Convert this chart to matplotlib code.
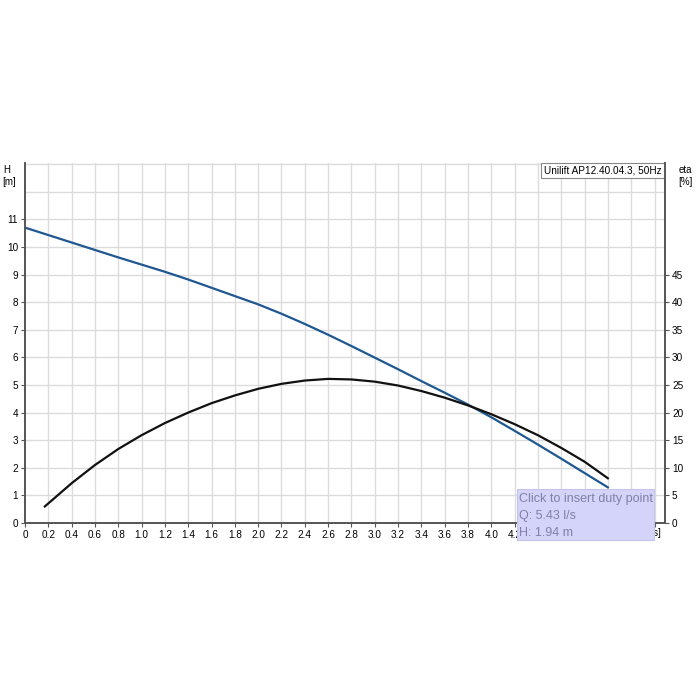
import matplotlib
matplotlib.use("Agg")
import matplotlib.pyplot as plt
import numpy as np
from matplotlib.patches import Rectangle

plt.rcParams['font.family'] = ['Liberation Sans', 'DejaVu Sans']

# Head curve H [m] vs Q [l/s]
q_head = [0, 0.2, 0.4, 0.6, 0.8, 1.0, 1.2, 1.4, 1.6, 1.8, 2.0, 2.2, 2.4, 2.6, 2.8,
          3.0, 3.2, 3.4, 3.6, 3.8, 4.0, 4.2, 4.4, 4.6, 4.8, 5.0]
h_head = [10.70, 10.43, 10.16, 9.89, 9.62, 9.36, 9.10, 8.82, 8.52, 8.22, 7.92, 7.58,
          7.21, 6.82, 6.41, 5.99, 5.57, 5.14, 4.72, 4.29, 3.83, 3.34, 2.84, 2.33, 1.81, 1.29]

# Efficiency curve eta [%] vs Q [l/s]
q_eta = [0.17, 0.4, 0.6, 0.8, 1.0, 1.2, 1.4, 1.6, 1.8, 2.0, 2.2, 2.4, 2.6, 2.8,
         3.0, 3.2, 3.4, 3.6, 3.8, 4.0, 4.2, 4.4, 4.6, 4.8, 5.0]
eta = [3.0, 7.2, 10.5, 13.4, 15.9, 18.1, 20.0, 21.7, 23.1, 24.3, 25.2, 25.8, 26.1, 26.0,
       25.6, 24.9, 23.9, 22.7, 21.3, 19.7, 17.9, 15.9, 13.6, 11.1, 8.1]

x_ticks = [round(0.2 * i, 1) for i in range(28)]
x_labels = ['0'] + ['%.1f' % v if v <= 4.2 else '' for v in x_ticks[1:]]
h_ticks = list(range(0, 12))
eta_ticks = list(range(0, 50, 5))

legend_text = "Unilift AP12.40.04.3, 50Hz"
tooltip_lines = ["Click to insert duty point", "Q: 5.43 l/s", "H: 1.94 m"]

fig = plt.figure(figsize=(7, 7), dpi=100)
L, R, B, T = 25/700, 665/700, 1 - 523/700, 1 - 163/700
ax = fig.add_axes([L, B, R - L, T - B])
ax.set_xlim(0, 5.49)
ax.set_ylim(0, 13.04)

# grid
for v in np.arange(0.2, 5.49, 0.2):
    ax.axvline(v, color='#dcdcdc', lw=1.0, zorder=0)
for v in range(1, 14):
    ax.axhline(v, color='#dcdcdc', lw=1.0, zorder=0)

ax.plot(q_head, h_head, color='#1f5791', lw=1.6, zorder=3, solid_joinstyle='round')

ax2 = ax.twinx()
ax2.set_ylim(0, 13.04 * 5)
ax2.plot(q_eta, eta, color='#111111', lw=1.6, zorder=3, solid_joinstyle='round')

for a in (ax, ax2):
    a.spines['top'].set_visible(False)
    for s in ('left', 'right', 'bottom'):
        a.spines[s].set_color('#555555')
        a.spines[s].set_linewidth(1.2)

ax.set_xticks(x_ticks)
ax.set_xticklabels(x_labels)
ax.set_yticks(h_ticks)
ax.set_yticklabels([str(v) for v in h_ticks])
ax2.set_yticks(eta_ticks)
ax2.set_yticklabels([str(v) for v in eta_ticks])
ax.tick_params(axis='both', labelsize=7.2, length=3, width=0.8, color='#555555', pad=2)
ax2.tick_params(axis='y', labelsize=7.2, length=3, width=0.8, color='#555555', pad=2)

fig.text(7/700, 1 - 170/700, "H", fontsize=7, ha='center', va='center')
fig.text(9/700, 1 - 182/700, "[m]", fontsize=7, ha='center', va='center')
fig.text(685/700, 1 - 170/700, "eta", fontsize=7, ha='center', va='center')
fig.text(685/700, 1 - 182/700, "[%]", fontsize=7, ha='center', va='center')
fig.text(661/700, 1 - 533/700, "Q [l/s]", fontsize=7, ha='right', va='center')

# legend box
ax.text(5.46, 12.95, legend_text, fontsize=7.2, ha='right', va='top', zorder=5,
        bbox=dict(boxstyle='square,pad=0.25', fc='white', ec='#888888', lw=0.8))

# tooltip
tx0, ty0 = 517/700, 1 - 540/700
fig.patches.append(Rectangle((tx0, ty0), (654 - 517)/700, (540 - 489)/700,
                             transform=fig.transFigure, fc='#d4d4fa', ec='#c4c4ec',
                             lw=0.8, zorder=10))
for i, line in enumerate(tooltip_lines):
    fig.text(519/700, 1 - (499 + 17*i)/700, line, fontsize=9, color='#8080a8',
             ha='left', va='center', zorder=11)

fig.savefig("out.png", dpi=100, facecolor='white')
